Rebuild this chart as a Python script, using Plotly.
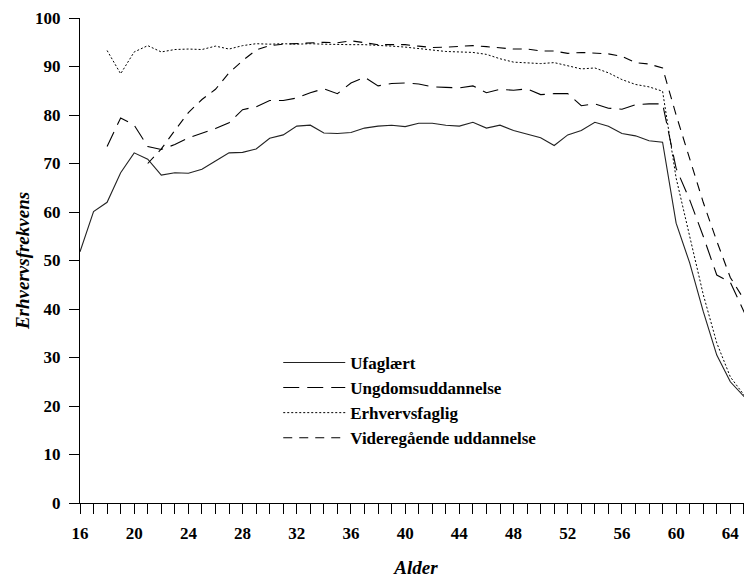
import plotly.graph_objects as go

ages = list(range(16, 67))

ufaglaert = [51.8, 60.1, 62.0, 68.1, 72.2, 70.9, 67.6, 68.1, 68.0, 68.8,
             70.5, 72.2, 72.3, 73.0, 75.2, 75.9, 77.7, 77.9, 76.3, 76.2,
             76.4, 77.3, 77.7, 77.9, 77.6, 78.3, 78.3, 77.9, 77.7, 78.5,
             77.3, 77.9, 76.8, 76.0, 75.3, 73.7, 75.9, 76.8, 78.5, 77.7,
             76.2, 75.7, 74.7, 74.4, 57.7, 49.5, 39.5, 30.5, 25.0, 22.0, 20.3]

ungdom_ages = list(range(18, 67))
ungdom = [73.5, 79.4, 77.9, 73.5, 72.9, 73.9, 75.3, 76.2, 77.2, 78.4,
          81.1, 81.7, 83.0, 83.0, 83.5, 84.6, 85.4, 84.4, 86.6, 87.8,
          86.0, 86.5, 86.6, 86.4, 85.8, 85.7, 85.6, 86.0, 84.6, 85.3,
          85.1, 85.4, 84.2, 84.4, 84.4, 81.9, 82.3, 81.4, 81.2, 82.1,
          82.3, 82.3, 69.0, 62.5, 55.0, 47.0, 45.5, 39.5, 33.0]

erhverv_ages = list(range(18, 67))
erhverv = [93.3, 88.5, 93.0, 94.3, 93.0, 93.5, 93.6, 93.5, 94.2, 93.6,
           94.3, 94.7, 94.6, 94.7, 94.6, 94.7, 94.6, 94.5, 94.5, 94.5,
           94.4, 94.2, 94.0, 93.7, 93.5, 93.1, 93.0, 92.9, 92.5, 91.6,
           90.9, 90.8, 90.6, 90.8, 90.2, 89.5, 89.7, 88.7, 87.3, 86.3,
           85.8, 84.9, 67.0, 55.0, 43.0, 33.0, 26.0, 22.3, 20.5]

videre_ages = list(range(21, 67))
videre = [70.0, 73.0, 76.8, 80.5, 83.2, 85.3, 88.7, 91.2, 93.4, 94.3,
          94.6, 94.7, 94.8, 95.0, 94.9, 95.3, 94.9, 94.5, 94.5, 94.5,
          94.2, 93.9, 94.0, 94.2, 94.3, 94.1, 93.8, 93.6, 93.6, 93.2,
          93.2, 92.7, 92.9, 92.7, 92.6, 92.1, 90.8, 90.5, 89.7, 80.0,
          71.0, 62.0, 54.0, 46.5, 42.0, 38.5]

series_names = ["Ufaglært", "Ungdomsuddannelse", "Erhvervsfaglig", "Videregående uddannelse"]

x_ticks = list(range(16, 66))
x_ticktext = [str(v) if (v - 16) % 4 == 0 else "" for v in x_ticks]
y_ticks = list(range(0, 101, 10))

serif = "Liberation Serif, Times New Roman, serif"

fig = go.Figure()
fig.add_trace(go.Scatter(x=ages, y=ufaglaert, mode="lines", name=series_names[0],
                         line=dict(color="#222222", width=1.1, dash="solid")))
fig.add_trace(go.Scatter(x=ungdom_ages, y=ungdom, mode="lines", name=series_names[1],
                         line=dict(color="black", width=1.1, dash="16px,8px")))
fig.add_trace(go.Scatter(x=erhverv_ages, y=erhverv, mode="lines", name=series_names[2],
                         line=dict(color="black", width=1, dash="2px,2px")))
fig.add_trace(go.Scatter(x=videre_ages, y=videre, mode="lines", name=series_names[3],
                         line=dict(color="black", width=1.1, dash="9px,7px")))

# The page body has an 8px default margin; the figure is sized to compensate.
fig.update_layout(
    width=744, height=570,
    margin=dict(l=72, r=0, t=10, b=75),
    paper_bgcolor="white", plot_bgcolor="white",
    font=dict(family=serif, size=17, color="black"),
    showlegend=True,
    legend=dict(x=0.295, y=0.326, xanchor="left", yanchor="top",
                bgcolor="rgba(0,0,0,0)", borderwidth=0,
                font=dict(family=serif, size=17, color="black", weight="bold"),
                itemwidth=62, tracegroupgap=0),
    xaxis=dict(range=[16, 65.6], tickmode="array", tickvals=x_ticks, ticktext=x_ticktext,
               ticks="outside", ticklen=10, tickwidth=1, tickcolor="black",
               showline=True, linecolor="black", linewidth=1,
               showgrid=False, zeroline=False, automargin=False,
               ticklabelstandoff=5,
               tickfont=dict(family=serif, size=17, color="black", weight="bold"),
               title=dict(text="Alder", standoff=22,
                          font=dict(family=serif, size=19, color="black",
                                    weight="bold", style="italic"))),
    yaxis=dict(range=[0, 100], tickmode="array", tickvals=y_ticks,
               ticks="outside", ticklen=10, tickwidth=1, tickcolor="black",
               showline=True, linecolor="black", linewidth=1,
               showgrid=False, zeroline=False, automargin=False,
               ticklabelstandoff=5,
               tickfont=dict(family=serif, size=17, color="black", weight="bold"),
               title=dict(text="Erhvervsfrekvens", standoff=0,
                          font=dict(family=serif, size=19, color="black",
                                    weight="bold", style="italic"))),
)

fig.write_html("out.html")
